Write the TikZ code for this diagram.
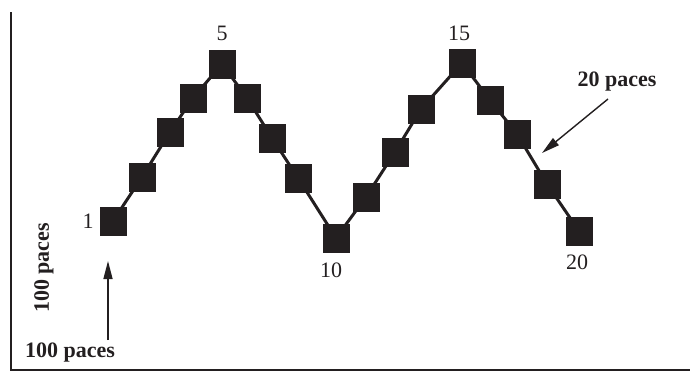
\documentclass[tikz,border=0pt]{standalone}
\usepackage{fontspec}
\setmainfont{Liberation Serif}
\usetikzlibrary{arrows.meta}
\definecolor{ink}{HTML}{231F20}
\begin{document}
\begin{tikzpicture}[x=1pt,y=-1pt,
  sq/.style={fill=ink,draw=none,minimum width=27pt,minimum height=29pt,inner sep=0pt},
  link/.style={draw=ink,line width=3pt},
  num/.style={font=\fontsize{22}{24}\selectfont,text=ink,inner sep=0pt},
  lab/.style={font=\fontsize{22}{24}\selectfont\bfseries,text=ink,inner sep=0pt},
  pointer/.style={draw=ink,line width=1.4pt,-{Triangle[length=18pt,width=9pt]}},
  axis/.style={draw=ink,line width=2.5pt}]
\useasboundingbox (0,0) rectangle (690,378);
% axes
\coordinate (top) at (11,12);
\coordinate (corner) at (11,370);
\coordinate (right) at (690,370);
\draw[axis] (top) -- (corner) -- (right);
% squares
\foreach \i/\x/\y in {1/113/221, 2/142/177, 3/170/132, 4/193/98, 5/222/64,
  6/247/98, 7/272/138, 8/298/178, 9/336/238,
  10/366/197, 11/395/152, 12/421/109, 13/462/63,
  14/490/100, 15/517/134, 16/547/184, 17/579/231}
  \coordinate (c\i) at (\x,\y);
\draw[link] (c1)--(c2)--(c3)--(c4)--(c5)--(c6)--(c7)--(c8)--(c9)--(c10)--(c11)--(c12)--(c13)--(c14)--(c15)--(c16)--(c17);
\foreach \i in {1,...,17}
  \node[sq] (s\i) at (c\i) {};
% labels
\node[num] (n1) at (88,221) {1};
\node[num] (n5) at (222,33) {5};
\node[num] (n10) at (331,270) {10};
\node[num] (n15) at (459,33) {15};
\node[num] (n20) at (577,262) {20};
\node[lab] (h) at (70,353) {100 paces};
\node[lab,rotate=90] (v) at (44,268) {100 paces};
\node[lab] (t) at (617,82) {20 paces};
% pointers
\coordinate (upfrom) at (108,340);
\coordinate (upto) at (108,261);
\draw[pointer] (upfrom) -- (upto);
\coordinate (dfrom) at (608,99);
\coordinate (dto) at (542,153);
\draw[pointer] (dfrom) -- (dto);
\end{tikzpicture}
\end{document}
